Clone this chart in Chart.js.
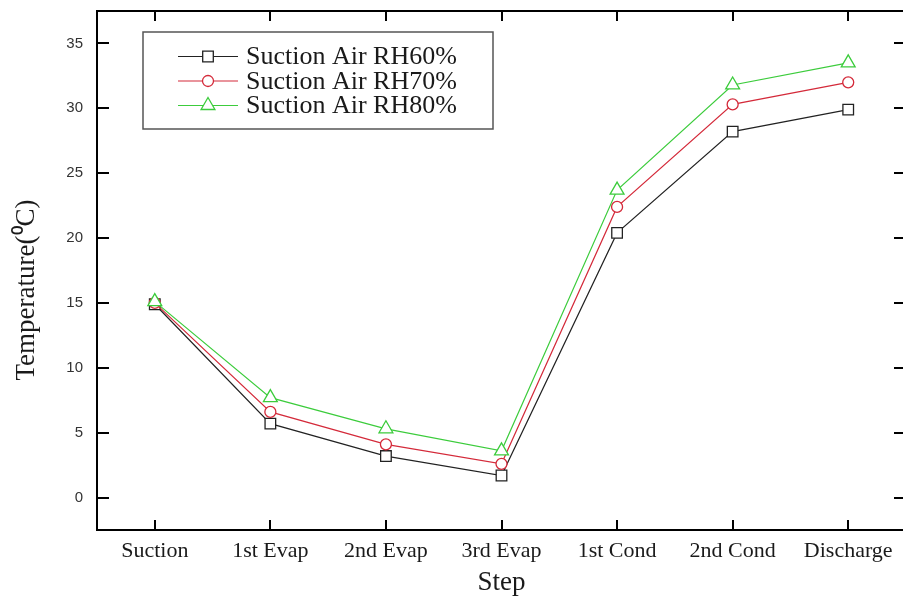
<!DOCTYPE html>
<html><head><meta charset="utf-8">
<script src="https://cdn.jsdelivr.net/npm/chart.js@4"></script>
<style>html,body{margin:0;padding:0;background:#fff;overflow:hidden;} #wrap{width:912px;height:603px;}</style>
</head><body><div id="wrap"><canvas id="c" width="912" height="603"></canvas></div>
<script>
const categories = ['Suction','1st Evap','2nd Evap','3rd Evap','1st Cond','2nd Cond','Discharge'];
const rh60 = [14.9, 5.7, 3.2, 1.7, 20.4, 28.2, 29.9];
const rh70 = [15.0, 6.6, 4.1, 2.6, 22.4, 30.3, 32.0];
const rh80 = [15.1, 7.7, 5.3, 3.6, 23.7, 31.8, 33.5];
const seriesLabels = ['Suction Air RH60%', 'Suction Air RH70%', 'Suction Air RH80%'];
const yTicks = [0, 5, 10, 15, 20, 25, 30, 35];
const yMin = -2.5, yMax = 37.5;
const xTitle = 'Step';
const yTitle = 'Temperature(\u2070C)';

const colors = ['#222222', '#d42a3a', '#3ccc3c'];
const styles = ['rect', 'circle', 'triangle'];
const radii = [7.5, 5.5, 8];

const framePlugin = {
  id: 'frame',
  afterDraw(chart) {
    const {ctx, chartArea: a, scales: {x, y}} = chart;
    ctx.save();
    ctx.strokeStyle = '#000';
    ctx.lineWidth = 2;
    ctx.strokeRect(a.left, a.top, a.right - a.left, a.bottom - a.top);
    ctx.beginPath();
    x.ticks.forEach((t, i) => {
      const px = Math.round(x.getPixelForTick(i));
      ctx.moveTo(px, a.bottom); ctx.lineTo(px, a.bottom - 10);
      ctx.moveTo(px, a.top); ctx.lineTo(px, a.top + 10);
    });
    y.ticks.forEach((t, i) => {
      const py = Math.round(y.getPixelForTick(i));
      ctx.moveTo(a.left, py); ctx.lineTo(a.left + 12, py);
      ctx.moveTo(a.right, py); ctx.lineTo(a.right - 12, py);
    });
    ctx.stroke();

    // axis titles
    ctx.fillStyle = '#1a1a1a';
    ctx.font = '27px "Liberation Serif"';
    ctx.textAlign = 'center';
    ctx.textBaseline = 'middle';
    ctx.fillText(xTitle, 501.5, 583);
    ctx.save();
    ctx.translate(27, 290);
    ctx.rotate(-Math.PI / 2);
    ctx.font = '27px "Liberation Serif"';
    ctx.fillText(yTitle, 0, 0);
    ctx.restore();

    // legend
    const bx = 143, by = 32, bw = 350, bh = 97;
    ctx.fillStyle = '#fff';
    ctx.fillRect(bx, by, bw, bh);
    ctx.strokeStyle = '#555';
    ctx.lineWidth = 1.5;
    ctx.strokeRect(bx, by, bw, bh);
    chart.data.datasets.forEach((ds, i) => {
      const ry = 56.5 + i * 24.5;
      ctx.strokeStyle = ds.borderColor;
      ctx.lineWidth = 1.2;
      ctx.beginPath(); ctx.moveTo(178, ry); ctx.lineTo(238, ry); ctx.stroke();
      ctx.fillStyle = '#fff';
      ctx.lineWidth = 1.3;
      Chart.helpers.drawPoint(ctx, {pointStyle: ds.pointStyle, radius: ds.pointRadius, rotation: 0, borderWidth: 1.3}, 208, ry);
      ctx.fillStyle = '#1a1a1a';
      ctx.font = '26px "Liberation Serif"';
      ctx.textAlign = 'left';
      ctx.textBaseline = 'middle';
      ctx.fillText(ds.label, 246, ry + 1);
    });
    ctx.restore();
  }
};

const seriesData = [rh60, rh70, rh80];
const datasets = seriesData.map((d, i) => ({
  label: seriesLabels[i],
  data: d,
  borderColor: colors[i],
  backgroundColor: '#fff',
  borderWidth: 1.2,
  pointStyle: styles[i],
  pointRadius: radii[i],
  pointBorderWidth: 1.3,
  pointBackgroundColor: '#fff',
  pointBorderColor: colors[i],
  tension: 0,
  order: 3 - i
}));

new Chart(document.getElementById('c'), {
  type: 'line',
  data: {labels: categories, datasets},
  plugins: [framePlugin],
  options: {
    responsive: false,
    animation: false,
    layout: {autoPadding: false, padding: {left: 0, right: 6, top: 11, bottom: 0}},
    plugins: {legend: {display: false}, tooltip: {enabled: false}},
    scales: {
      x: {
        type: 'category', offset: true,
        grid: {display: false, drawTicks: false},
        border: {display: false},
        ticks: {font: {family: 'Liberation Serif', size: 22}, color: '#1a1a1a', padding: 8, maxRotation: 0, autoSkip: false},
        afterFit(s) { s.height = 73; s.paddingLeft = 0; s.paddingRight = 0; }
      },
      y: {
        min: yMin, max: yMax,
        afterBuildTicks(s) { s.ticks = yTicks.map(v => ({value: v})); },
        grid: {display: false, drawTicks: false},
        border: {display: false},
        ticks: {font: {family: 'Liberation Sans', size: 15}, color: '#333', padding: 14},
        afterFit(s) { s.width = 97; s.paddingTop = 0; s.paddingBottom = 0; }
      }
    }
  }
});
</script></body></html>
